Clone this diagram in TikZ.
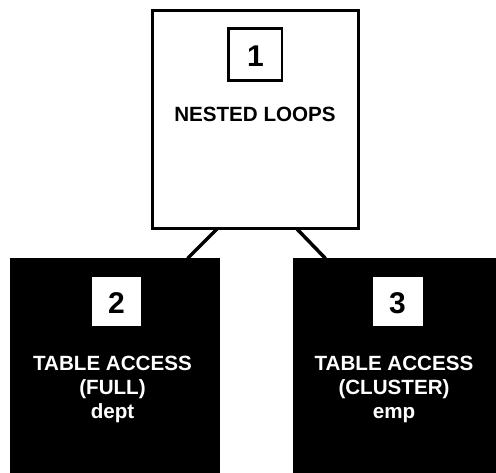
\documentclass[tikz,border=0pt]{standalone}
\usepackage{fontspec}
\setmainfont{Liberation Sans}
\begin{document}
\begin{tikzpicture}[x=1pt,y=-1pt,
  opbox/.style={rectangle,draw=black,line width=3pt,fill=white,inner sep=0pt},
  blackbox/.style={rectangle,fill=black,inner sep=0pt},
  numbox/.style={rectangle,fill=white,inner sep=0pt},
  numtxt/.style={inner sep=0pt,font=\fontsize{30}{30}\selectfont\bfseries},
  lbl/.style={inner sep=0pt,align=center,font=\fontsize{20.6}{24.5}\selectfont\bfseries},
  conn/.style={line width=3.5pt}]
\useasboundingbox (0,0) rectangle (496,473);
\node[opbox,minimum width=206.5pt,minimum height=217.5pt] (top) at (255.25,119.75) {};
\node[blackbox,minimum width=210pt,minimum height=215pt] (left) at (115,365.5) {};
\node[blackbox,minimum width=203pt,minimum height=215pt] (right) at (394.5,365.5) {};
\coordinate (tl) at (217.5,228.5);
\coordinate (tr) at (296.5,228.5);
\coordinate (bl) at (187.5,258.5);
\coordinate (br) at (325.5,258.5);
\draw[conn] (tl) -- (bl);
\draw[conn] (tr) -- (br);
\node[rectangle,draw=black,line width=2.7pt,minimum width=53.4pt,minimum height=51.7pt,inner sep=0pt] (n1box) at (255.3,54.5) {};
\node[numtxt] (n1) at (255.5,56) {1};
\node[lbl,anchor=base] (t1) at (255,121.7) {NESTED LOOPS};
\node[numbox,minimum width=49pt,minimum height=49pt] (n2box) at (116.5,301.5) {};
\node[numtxt] (n2) at (116.5,303.5) {2};
\node[numbox,minimum width=50pt,minimum height=49pt] (n3box) at (397.5,301.5) {};
\node[numtxt] (n3) at (397.5,303.5) {3};
\node[lbl,text=white,anchor=base] (t2) at (112.5,419) {TABLE ACCESS\\(FULL)\\dept};
\node[lbl,text=white,anchor=base] (t3) at (394,419) {TABLE ACCESS\\(CLUSTER)\\emp};
\end{tikzpicture}
\end{document}
